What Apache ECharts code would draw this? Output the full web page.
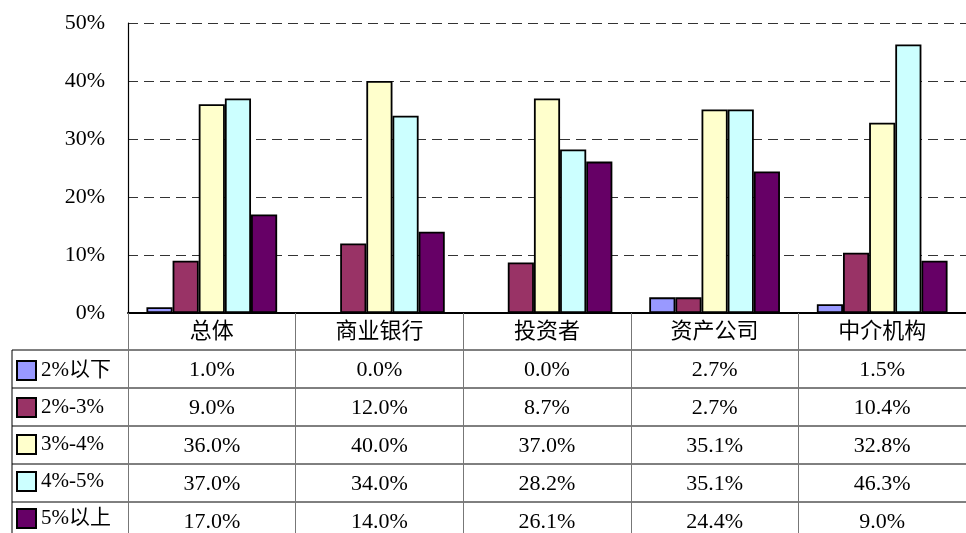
<!DOCTYPE html>
<html>
<head>
<meta charset="utf-8">
<script src="https://cdn.jsdelivr.net/npm/echarts@6/dist/echarts.min.js"></script>
<style>
  html, body { margin: 0; padding: 0; background: #fff; }
  #chart { width: 966px; height: 533px; }
</style>
</head>
<body>
<div id="chart"></div>
<script>
const categories = ['总体', '商业银行', '投资者', '资产公司', '中介机构'];
const seriesNames = ['2%以下', '2%-3%', '3%-4%', '4%-5%', '5%以上'];
const below2 = [1.0, 0.0, 0.0, 2.7, 1.5];
const from2to3 = [9.0, 12.0, 8.7, 2.7, 10.4];
const from3to4 = [36.0, 40.0, 37.0, 35.1, 32.8];
const from4to5 = [37.0, 34.0, 28.2, 35.1, 46.3];
const above5 = [17.0, 14.0, 26.1, 24.4, 9.0];
const yTicks = [0, 10, 20, 30, 40, 50];

const seriesData = [below2, from2to3, from3to4, from4to5, above5];
const colors = ['#9999FF', '#993366', '#FFFFCC', '#CCFFFF', '#660066'];
const FONT = '"Liberation Serif", "Noto Sans CJK SC", serif';

const chart = echarts.init(document.getElementById('chart'));

const option = {
  animation: false,
  backgroundColor: '#fff',
  grid: { left: 128, top: 23, bottom: 220, right: -13 },
  legend: {
    orient: 'vertical',
    left: 16,
    top: 360,
    bottom: -100,
    padding: 0,
    itemWidth: 19,
    itemHeight: 19,
    itemGap: 16,
    icon: 'rect',
    selectedMode: false,
    textStyle: { fontFamily: FONT, fontSize: 21, color: '#000', padding: [4, 0, 0, 0] },
    data: seriesNames
  },
  xAxis: {
    type: 'category',
    data: categories,
    axisLine: { lineStyle: { color: '#000', width: 2 } },
    axisTick: { show: true, length: 220, interval: 0, lineStyle: { color: '#777', width: 1 } },
    axisLabel: { fontFamily: FONT, fontSize: 22, color: '#000', margin: 8 }
  },
  yAxis: {
    type: 'value',
    min: yTicks[0],
    max: yTicks[yTicks.length - 1],
    interval: 10,
    axisLine: { show: true, lineStyle: { color: '#000', width: 1.2 } },
    axisTick: { show: false },
    axisLabel: { formatter: '{value}%', fontFamily: FONT, fontSize: 22, color: '#000', margin: 23 },
    splitLine: { lineStyle: { color: '#333', type: [10, 6], width: 1 } }
  },
  series: seriesNames.map((name, i) => ({
    name: name,
    type: 'bar',
    data: seriesData[i],
    barGap: '0%',
    barCategoryGap: '22%',
    itemStyle: { color: colors[i], borderColor: '#000', borderWidth: 1.8 }
  }))
};

chart.setOption(option);

// data table under the axis
const rowTop = 350;
const rowH = 38;
const graphics = [];
for (let r = 0; r < seriesNames.length; r++) {
  const y = rowTop + r * rowH;
  graphics.push({
    type: 'line',
    shape: { x1: 12, y1: y, x2: 966, y2: y },
    style: { stroke: '#000', lineWidth: 1 }
  });
  for (let c = 0; c < categories.length; c++) {
    const x = chart.convertToPixel({ xAxisIndex: 0 }, c);
    graphics.push({
      type: 'text',
      x: x,
      y: y + rowH / 2 + 1,
      style: {
        text: seriesData[r][c].toFixed(1) + '%',
        fontFamily: FONT,
        fontSize: 22,
        fill: '#000',
        align: 'center',
        verticalAlign: 'middle'
      }
    });
  }
}
graphics.push({
  type: 'line',
  shape: { x1: 12, y1: rowTop, x2: 12, y2: 533 },
  style: { stroke: '#000', lineWidth: 1 }
});
chart.setOption({ graphic: graphics });
</script>
</body>
</html>
